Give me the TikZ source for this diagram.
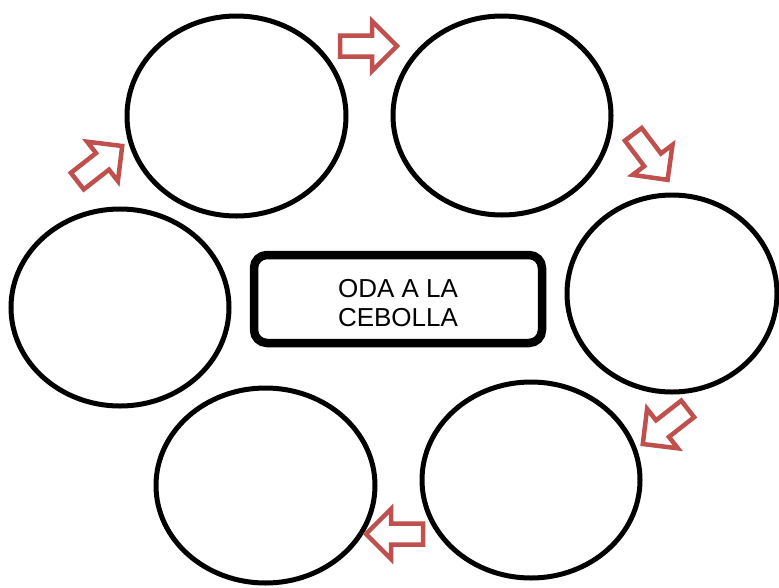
\documentclass[tikz,border=0pt]{standalone}
\usepackage{fontspec}
\setmainfont{Liberation Sans}
\usetikzlibrary{shapes.geometric}
\definecolor{arrowred}{HTML}{C0504D}
\tikzset{
  bubble/.style={draw=black, line width=5pt, ellipse, inner sep=0pt, fill=white},
  titlebox/.style={draw=black, line width=8.5pt, rounded corners=13pt, minimum width=288pt, minimum height=88pt, inner sep=0pt, fill=white},
  blockarrow/.style={draw=arrowred, fill=white, line width=4.5pt, miter limit=10}
}
\newcommand{\bkarrow}[3]{%
  \draw[blockarrow, shift={(#1,#2)}, rotate=#3]
    (0,10.5) -- (32,10.5) -- (32,25) -- (57,0) -- (32,-25) -- (32,-10.5) -- (0,-10.5) -- cycle;}
\begin{document}
\begin{tikzpicture}[x=1pt,y=-1pt]
\useasboundingbox (0,0) rectangle (779,587);
\fill[white] (0,0) rectangle (779,587);
\node[bubble, minimum width=219pt, minimum height=200pt] (e1) at (236.5,116) {};
\node[bubble, minimum width=218pt, minimum height=199pt] (e2) at (502,115.5) {};
\node[bubble, minimum width=210pt, minimum height=197pt] (e3) at (672,293.5) {};
\node[bubble, minimum width=218pt, minimum height=196pt] (e4) at (531,480) {};
\node[bubble, minimum width=219pt, minimum height=195pt] (e5) at (265.5,485.5) {};
\node[bubble, minimum width=218pt, minimum height=197pt] (e6) at (120,307.5) {};
\node[titlebox] (t) at (398,299) {};
\node[align=center, font=\fontsize{26pt}{29pt}\selectfont, inner sep=0pt] (tt) at (398,303) {ODA A LA\\CEBOLLA};
\bkarrow{340}{46}{0}
\bkarrow{633.3}{134.3}{-53}
\bkarrow{687.7}{408.9}{-142}
\bkarrow{423}{534}{180}
\bkarrow{77.3}{181.1}{38}
\end{tikzpicture}
\end{document}
